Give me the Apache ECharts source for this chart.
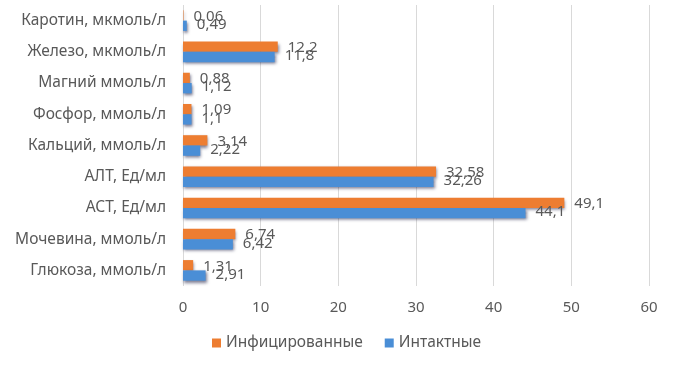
<!DOCTYPE html>
<html><head><meta charset="utf-8">
<script src="https://cdn.jsdelivr.net/npm/echarts@6/dist/echarts.min.js"></script>
<style>html,body{margin:0;padding:0;background:#fff}#c{width:677px;height:366px}</style>
</head><body><div id="c"></div>
<script>
const categories = ['Глюкоза, ммоль/л','Мочевина, ммоль/л','АСТ, Ед/мл','АЛТ, Ед/мл','Кальций, ммоль/л','Фосфор, ммоль/л','Магний ммоль/л','Железо, мкмоль/л','Каротин, мкмоль/л'];
const infected = [1.31, 6.74, 49.1, 32.58, 3.14, 1.09, 0.88, 12.2, 0.06];
const intact = [2.91, 6.42, 44.1, 32.26, 2.22, 1.1, 1.12, 11.8, 0.49];
const xTicks = [0, 10, 20, 30, 40, 50, 60];

const font = 'Noto Sans';
const fmt = p => String(p.value).replace('.', ',');
const shadow = {shadowColor:'rgba(20,20,60,0.55)', shadowBlur:3, shadowOffsetX:1, shadowOffsetY:2};
const chart = echarts.init(document.getElementById('c'));
chart.setOption({
  animation:false,
  textStyle:{fontFamily:font},
  grid:{left:183, right:28, top:5, bottom:80, containLabel:false},
  legend:{data:['Инфицированные','Интактные'], left:207, top:330, itemWidth:9, itemHeight:9, itemGap:22,
    textStyle:{fontFamily:font, fontSize:15.5, color:'#595959'}, icon:'rect'},
  xAxis:{type:'value', min:xTicks[0], max:xTicks[xTicks.length-1], interval:10,
    axisLine:{show:false}, axisTick:{show:false},
    splitLine:{lineStyle:{color:'#d9d9d9'}},
    axisLabel:{fontFamily:font, fontSize:15, color:'#595959', margin:14}},
  yAxis:{type:'category', data:categories, axisLine:{show:false}, axisTick:{show:false},
    axisLabel:{fontFamily:font, fontSize:15.5, color:'#595959', margin:17}},
  series:[
    {name:'Инфицированные', type:'bar', data:infected, barGap:'0%', barCategoryGap:'34%',
     itemStyle:Object.assign({color:'#ed7d31'}, shadow),
     label:{show:true, position:'right', distance:10, formatter:fmt, fontFamily:font, fontSize:15, color:'#595959', offset:[0,1]}},
    {name:'Интактные', type:'bar', data:intact, barGap:'0%', barCategoryGap:'34%',
     itemStyle:Object.assign({color:'#4a8ed6'}, shadow),
     label:{show:true, position:'right', distance:10, formatter:fmt, fontFamily:font, fontSize:15, color:'#595959', offset:[0,-1]}}
  ]
});
</script></body></html>
